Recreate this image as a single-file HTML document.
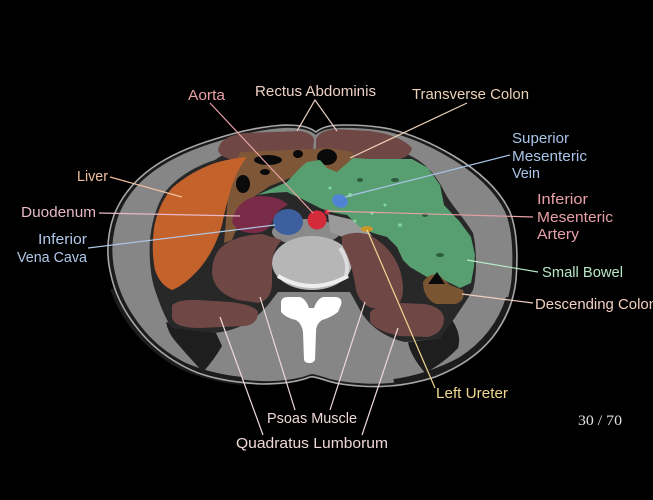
<!DOCTYPE html>
<html><head><meta charset="utf-8"><style>
html,body{margin:0;padding:0;background:#000;}
svg{display:block;}
text{font-family:"Liberation Sans","DejaVu Sans",sans-serif;font-size:15px;}
</style></head><body>
<svg width="653" height="500" viewBox="0 0 653 500" xmlns="http://www.w3.org/2000/svg">
<rect width="653" height="500" fill="#000"/>
<!-- body outer -->
<path d="M316,132 C322,127 330,125 345,125 C360,125 375,126 390,129 C410,134 430,142 452,155 C478,170 500,190 510,212 C517,230 518,255 516,280 C514,300 506,320 492,338 C478,355 458,368 435,377 C410,385 385,388 360,386 C345,385 333,383 325,380 C318,378 313,376 310,377 C300,381 285,384 262,384 C240,383 218,380 198,373 C178,365 158,352 143,335 C128,318 116,298 111,275 C106,255 107,235 114,215 C122,195 135,180 152,168 C170,155 192,146 215,139 C240,131 265,126 285,125 C298,125 308,126 316,132 Z" fill="#1b1b1b"/>
<!-- gray layer -->
<g transform="translate(312,256) scale(0.978) translate(-312,-256)">
<path d="M316,132 C322,127 330,125 345,125 C360,125 375,126 390,129 C410,134 430,142 452,155 C478,170 500,190 510,212 C517,230 518,255 516,280 C514,300 506,320 492,338 C478,355 458,368 435,377 C410,385 385,388 360,386 C345,385 333,383 325,380 C318,378 313,376 310,377 C300,381 285,384 262,384 C240,383 218,380 198,373 C178,365 158,352 143,335 C128,318 116,298 111,275 C106,255 107,235 114,215 C122,195 135,180 152,168 C170,155 192,146 215,139 C240,131 265,126 285,125 C298,125 308,126 316,132 Z" fill="#868686"/>
</g>
<!-- thicker dark subcutaneous band at posterolateral -->
<path d="M114,288 C124,318 148,348 183,366 C203,375 223,379 242,381" fill="none" stroke="#1c1c1c" stroke-width="8"/>
<path d="M510,298 C502,324 486,345 461,361 C441,372 416,380 394,383" fill="none" stroke="#1c1c1c" stroke-width="8"/>
<!-- dark wedges -->
<path d="M166,322 L216,333 L222,346 Q214,360 203,372 Q188,356 176,342 Q168,333 166,322 Z" fill="#1e1e1e"/>
<path d="M452,320 L440,338 L408,342 Q410,355 425,373 Q445,362 458,348 Q462,335 452,320 Z" fill="#1e1e1e"/>
<!-- cavity -->
<path d="M215,160 C225,152 240,150 250,150 L400,152 C420,157 435,172 445,193 C452,206 464,218 473,233 C477,250 477,275 473,290 C467,300 460,310 452,322 L440,338 L405,342 C385,338 368,325 360,310 L350,292 L278,292 L268,305 C255,320 240,330 215,333 L172,328 C165,318 160,305 155,290 C150,275 149,255 150,240 C152,220 157,205 165,192 C175,180 190,168 215,160 Z" fill="#282828"/>
<!-- gray around vessels -->
<ellipse cx="306" cy="232" rx="34" ry="13" fill="#8a8a8a"/>
<path d="M328,214 L362,222 L372,236 L350,240 L330,232 Z" fill="#9a9a9a"/>
<!-- rectus -->
<path d="M218,150 Q220,136 245,133 L300,131 Q313,133 314,140 L313,150 Q300,158 280,157 L235,160 Q220,158 218,150 Z" fill="#6f4846"/>
<path d="M316,140 Q318,131 335,129 L370,131 Q400,135 412,148 Q410,158 395,160 L345,158 Q325,156 316,150 Z" fill="#6f4846"/>
<!-- transverse colon -->
<path d="M240,152 L290,150 L330,148 L352,152 L357,163 L348,173 L335,177 L320,169 L305,167 L295,176 L270,186 L255,196 L245,206 L238,225 L232,240 L224,243 L226,220 L228,195 L232,172 Z" fill="#7e5738"/>
<g fill="#0a0a0a">
<ellipse cx="243" cy="184" rx="7" ry="9"/>
<ellipse cx="268" cy="160" rx="14" ry="5"/>
<ellipse cx="298" cy="154" rx="5" ry="4"/>
<ellipse cx="327" cy="157" rx="10" ry="8"/>
<ellipse cx="265" cy="172" rx="5" ry="3"/>
<ellipse cx="242" cy="210" rx="3" ry="6"/>
</g>
<!-- liver -->
<path d="M247,157 Q240,165 232,185 Q226,205 222,225 Q215,250 200,268 Q185,285 172,290 Q160,285 155,270 Q151,250 154,228 Q158,205 172,188 Q190,172 215,163 Q232,158 247,157 Z" fill="#c4622c"/>
<!-- small bowel -->
<path d="M257,195 L287,182 L300,168 L307,162 L320,160 L327,168 L337,172 L353,158 L370,159 L412,159 L428,168 L440,185 L444,205 L460,222 L471,237 L475,255 L474,267 L471,283 L460,288 L456,286 L450,283 L442,279 L427,277 L410,267 L403,260 L397,247 L387,237 L373,233 L360,227 L347,215 L330,212 L320,208 L300,198 L287,192 L270,193 Z" fill="#579f70"/>
<g fill="#7fdc9c">
<circle cx="350" cy="195" r="2"/><circle cx="372" cy="213" r="1.8"/><circle cx="385" cy="205" r="1.5"/><circle cx="400" cy="225" r="1.8"/><circle cx="330" cy="188" r="1.5"/><circle cx="355" cy="221" r="1.5"/>
</g>
<g fill="#2e5a3e">
<ellipse cx="395" cy="180" rx="4" ry="2"/><ellipse cx="425" cy="215" rx="3" ry="2"/><ellipse cx="440" cy="255" rx="4" ry="2"/><ellipse cx="360" cy="180" rx="3" ry="2"/>
</g>
<!-- descending colon -->
<path d="M423,282 Q428,274 438,274 L450,285 L463,290 Q466,300 456,304 L436,304 Q423,298 423,282 Z" fill="#7a5532"/>
<path d="M428,284 L437,272 L445,284 Z" fill="#0a0a0a"/>
<!-- duodenum -->
<path d="M232,222 Q236,200 258,196 Q280,196 288,205 Q276,210 272,222 Q268,232 256,233 Q238,234 232,222 Z" fill="#7a2b48"/>
<!-- vertebral body -->
<ellipse cx="312" cy="263" rx="40" ry="27" fill="#b6b6b6"/>
<path d="M278,276 Q312,296 348,276" fill="none" stroke="#eeeeee" stroke-width="4"/>
<path d="M340,248 Q350,262 346,276" fill="none" stroke="#dcdcdc" stroke-width="4"/>
<!-- posterior elements -->
<path d="M281,303 Q281,297 288,297 L300,297 Q306,299 309,308 L314,308 Q317,299 323,297 L336,297 Q343,298 341,305 L338,312 Q330,318 322,320 Q316,324 316,332 L315,360 Q313,363 310,363 Q305,363 304,360 L303,332 Q302,324 296,320 Q286,318 281,312 Z" fill="#ffffff"/>
<!-- psoas -->
<path d="M227,243 Q240,235 262,234 L282,240 Q272,250 272,265 L272,282 Q272,300 258,303 L238,300 Q214,293 212,273 Q212,252 227,243 Z" fill="#6f4846"/>
<path d="M342,236 Q355,230 370,235 Q392,248 400,270 Q406,292 400,302 Q390,310 372,308 Q360,304 356,290 Q352,262 342,245 Z" fill="#6f4846"/>
<!-- quadratus -->
<path d="M172,305 Q180,299 197,300 L230,302 Q255,305 258,312 Q258,324 245,326 L200,328 Q175,328 172,318 Z" fill="#6f4846"/>
<path d="M370,312 Q380,303 400,303 L425,304 Q442,307 444,318 Q444,333 428,337 L400,336 Q378,332 370,322 Z" fill="#6f4846"/>
<!-- vessels -->
<ellipse cx="288" cy="222" rx="15" ry="13" fill="#3e5f9f"/>
<circle cx="317" cy="220" r="9.5" fill="#d42b3b"/>
<circle cx="327" cy="212" r="2.5" fill="#d42b3b"/>
<ellipse cx="340" cy="201" rx="8" ry="6.5" fill="#4f84d4" transform="rotate(25 340 201)"/>
<ellipse cx="367" cy="229" rx="6" ry="3" fill="#c8962a"/>
<!-- skin line -->
<path d="M316,132 C322,127 330,125 345,125 C360,125 375,126 390,129 C410,134 430,142 452,155 C478,170 500,190 510,212 C517,230 518,255 516,280 C514,300 506,320 492,338 C478,355 458,368 435,377 C410,385 385,388 360,386 C345,385 333,383 325,380 C318,378 313,376 310,377 C300,381 285,384 262,384 C240,383 218,380 198,373 C178,365 158,352 143,335 C128,318 116,298 111,275 C106,255 107,235 114,215 C122,195 135,180 152,168 C170,155 192,146 215,139 C240,131 265,126 285,125 C298,125 308,126 316,132 Z" fill="none" stroke="#a8a8a8" stroke-width="1.6"/>
<!-- leader lines -->
<g stroke-width="1.2" fill="none">
<line x1="210" y1="103" x2="313" y2="213" stroke="#e8a0a4"/>
<polyline points="297,131 315,100 337,131" stroke="#ecd0c4"/>
<line x1="467" y1="103" x2="350" y2="158" stroke="#ecd2b8"/>
<line x1="510" y1="155" x2="345" y2="197" stroke="#a8c4e8"/>
<line x1="327" y1="211" x2="533" y2="217" stroke="#e8a0a8"/>
<line x1="538" y1="272" x2="467" y2="260" stroke="#b8e8c8"/>
<line x1="533" y1="303" x2="462" y2="294" stroke="#f0d0c0"/>
<line x1="110" y1="177" x2="182" y2="197" stroke="#f0c0a0"/>
<line x1="99" y1="213" x2="240" y2="216" stroke="#e8b8c8"/>
<line x1="88" y1="248" x2="275" y2="225" stroke="#b0c8e8"/>
<line x1="367" y1="230" x2="435" y2="388" stroke="#f0d890"/>
<line x1="260" y1="297" x2="295" y2="410" stroke="#f0d8d8"/>
<line x1="365" y1="302" x2="330" y2="410" stroke="#f0d8d8"/>
<line x1="220" y1="317" x2="263" y2="435" stroke="#f0d8d8"/>
<line x1="398" y1="328" x2="362" y2="435" stroke="#f0d8d8"/>
</g>
<!-- labels -->
<g>
<text x="188" y="100" fill="#e8a0a4" textLength="37" lengthAdjust="spacingAndGlyphs">Aorta</text>
<text x="255" y="96" fill="#ecd0c4" textLength="121" lengthAdjust="spacingAndGlyphs">Rectus Abdominis</text>
<text x="412" y="99" fill="#ecd2b8" textLength="117" lengthAdjust="spacingAndGlyphs">Transverse Colon</text>
<text x="512" y="143" fill="#a8c4e8" textLength="57" lengthAdjust="spacingAndGlyphs">Superior</text>
<text x="512" y="161" fill="#a8c4e8" textLength="75" lengthAdjust="spacingAndGlyphs">Mesenteric</text>
<text x="512" y="178" fill="#a8c4e8" textLength="28" lengthAdjust="spacingAndGlyphs">Vein</text>
<text x="537" y="204" fill="#e8a0a8" textLength="51" lengthAdjust="spacingAndGlyphs">Inferior</text>
<text x="537" y="222" fill="#e8a0a8" textLength="76" lengthAdjust="spacingAndGlyphs">Mesenteric</text>
<text x="537" y="239" fill="#e8a0a8" textLength="42" lengthAdjust="spacingAndGlyphs">Artery</text>
<text x="542" y="277" fill="#b8e8c8" textLength="81" lengthAdjust="spacingAndGlyphs">Small Bowel</text>
<text x="535" y="309" fill="#f0d0c0" textLength="122" lengthAdjust="spacingAndGlyphs">Descending Colon</text>
<text x="77" y="181" fill="#f0c0a0" textLength="31" lengthAdjust="spacingAndGlyphs">Liver</text>
<text x="21" y="217" fill="#e8b8c8" textLength="75" lengthAdjust="spacingAndGlyphs">Duodenum</text>
<text x="38" y="244" fill="#b0c8e8" textLength="49" lengthAdjust="spacingAndGlyphs">Inferior</text>
<text x="17" y="262" fill="#b0c8e8" textLength="70" lengthAdjust="spacingAndGlyphs">Vena Cava</text>
<text x="436" y="398" fill="#f0d890" textLength="72" lengthAdjust="spacingAndGlyphs">Left Ureter</text>
<text x="267" y="423" fill="#f0d8d8" textLength="90" lengthAdjust="spacingAndGlyphs">Psoas Muscle</text>
<text x="236" y="448" fill="#f0d8d8" textLength="152" lengthAdjust="spacingAndGlyphs">Quadratus Lumborum</text>
<text x="578" y="425" fill="#e0e0e0" style="font-family:'Liberation Serif',serif;font-size:15px" textLength="44" lengthAdjust="spacingAndGlyphs">30 / 70</text>
</g>
</svg>
</body></html>
